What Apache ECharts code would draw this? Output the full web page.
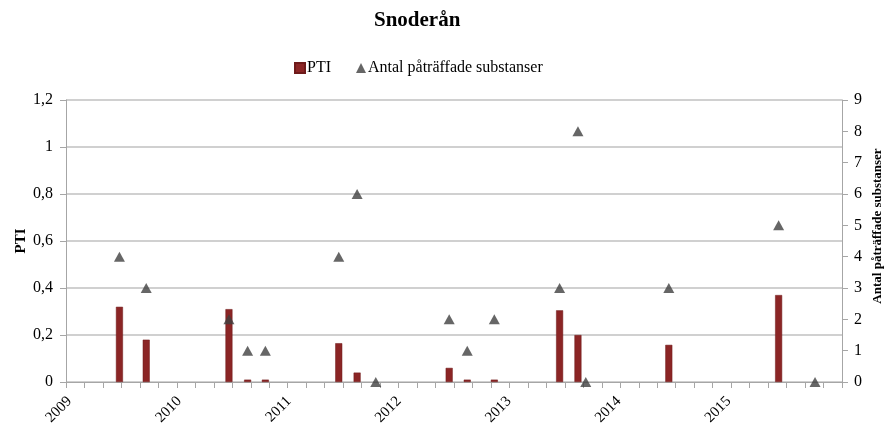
<!DOCTYPE html>
<html>
<head>
<meta charset="utf-8">
<script src="https://cdn.jsdelivr.net/npm/echarts@6/dist/echarts.min.js"></script>
<style>html,body{margin:0;padding:0;background:#fff}#c{width:885px;height:425px}</style>
</head>
<body>
<div id="c"></div>
<script>
const ptiDates = ['2009-06-16','2009-09-13','2010-06-15','2010-08-16','2010-10-14','2011-06-15','2011-08-15','2012-06-16','2012-08-15','2012-11-13','2013-06-18','2013-08-18','2014-06-16','2015-06-16'];
const ptiValues = [0.32,0.18,0.31,0.01,0.01,0.165,0.04,0.06,0.01,0.01,0.305,0.20,0.158,0.37];
const cntDates = ['2009-06-16','2009-09-13','2010-06-15','2010-08-16','2010-10-14','2011-06-15','2011-08-15','2011-10-16','2012-06-16','2012-08-15','2012-11-13','2013-06-18','2013-08-18','2013-09-13','2014-06-16','2015-06-16','2015-10-15'];
const cntValues = [4,3,2,1,1,4,6,0,2,1,2,3,8,0,3,5,0];
const yearLabels = ['2009','2010','2011','2012','2013','2014','2015'];
const leftTicks = [0,0.2,0.4,0.6,0.8,1,1.2];
const rightTicks = [0,1,2,3,4,5,6,7,8,9];

const font = 'Liberation Serif';
const chart = echarts.init(document.getElementById('c'));
const YEAR = 365*24*3600*1000;
const axisGray = '#a6a6a6';
chart.setOption({
  animation:false,
  textStyle:{fontFamily:font},
  title:{text:'Snoderån',left:369,top:5,textStyle:{fontFamily:font,fontSize:21,fontWeight:'bold',color:'#000'}},
  legend:{top:55,left:289,itemGap:25,itemWidth:10,itemHeight:10,textStyle:{fontFamily:font,fontSize:16,color:'#000',padding:[0,0,0,-3]},
    data:[{name:'PTI',icon:'rect'},{name:'Antal påträffade substanser',icon:'triangle'}]},
  grid:{left:66,right:43,top:100,bottom:43,outerBoundsMode:'none'},
  xAxis:[
    {type:'time',min:'2009-01-01',max:'2016-01-01',minInterval:YEAR,maxInterval:YEAR,
      axisLine:{lineStyle:{color:axisGray}},
      axisTick:{show:false},
      splitLine:{show:false},
      axisLabel:{rotate:45,fontFamily:font,fontSize:15,color:'#000',margin:17,hideOverlap:false,
        formatter:v=>{const y=String(new Date(v).getUTCFullYear());return yearLabels.includes(y)?y:'';}}},
    {type:'value',min:0,max:42,interval:1,position:'bottom',
      axisLine:{show:false},
      axisTick:{show:true,length:6,lineStyle:{color:axisGray}},
      axisLabel:{show:false},splitLine:{show:false}}
  ],
  yAxis:[
    {type:'value',min:0,max:1.2,interval:0.2,name:'PTI',nameLocation:'middle',nameGap:37,nameRotate:90,nameMoveOverlap:false,
      nameTextStyle:{fontFamily:font,fontSize:15,fontWeight:'bold',color:'#000'},
      axisLine:{show:true,lineStyle:{color:axisGray}},
      axisTick:{show:true,length:6,lineStyle:{color:axisGray}},
      splitLine:{lineStyle:{color:'#c0c0c0',width:1.5}},
      axisLabel:{fontFamily:font,fontSize:16,color:'#000',margin:13,formatter:v=>String(+v.toFixed(1)).replace('.',',')}},
    {type:'value',min:0,max:9,interval:1,name:'Antal påträffade substanser',nameLocation:'middle',nameGap:29,nameRotate:90,nameMoveOverlap:false,
      nameTextStyle:{fontFamily:font,fontSize:13,fontWeight:'bold',color:'#000',padding:[0,0,0,30]},
      axisLine:{show:true,lineStyle:{color:axisGray}},
      axisTick:{show:true,length:6,lineStyle:{color:axisGray}},
      splitLine:{show:false},
      axisLabel:{fontFamily:font,fontSize:16,color:'#000',margin:12}}
  ],
  series:[
    {name:'PTI',type:'bar',xAxisIndex:0,yAxisIndex:0,barWidth:7,
      itemStyle:{color:'#8b2525',borderColor:'#6e1a1a',borderWidth:0.5},
      data:ptiDates.map((d,i)=>[d,ptiValues[i]])},
    {name:'Antal påträffade substanser',type:'scatter',xAxisIndex:0,yAxisIndex:1,symbol:'triangle',symbolSize:[11,10],
      itemStyle:{color:'#404040'},
      data:cntDates.map((d,i)=>[d,cntValues[i]])}
  ]
});
</script>
</body>
</html>
